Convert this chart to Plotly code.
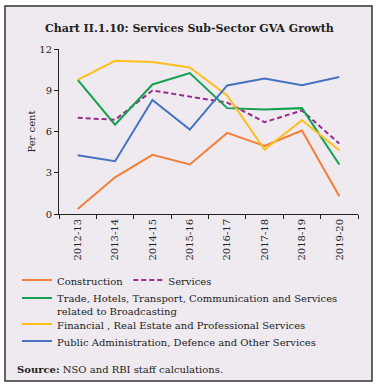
import plotly.graph_objects as go

years = ["2012-13", "2013-14", "2014-15", "2015-16", "2016-17", "2017-18", "2018-19", "2019-20"]
construction = [0.36, 2.67, 4.3, 3.6, 5.9, 4.95, 6.07, 1.3]
services = [7.0, 6.85, 8.98, 8.55, 8.1, 6.68, 7.53, 5.12]
trade = [9.76, 6.5, 9.42, 10.25, 7.7, 7.6, 7.7, 3.6]
financial = [9.76, 11.14, 11.05, 10.66, 8.62, 4.68, 6.82, 4.64]
public_admin = [4.27, 3.84, 8.3, 6.14, 9.35, 9.86, 9.37, 9.96]

FONT = "DejaVu Serif"
W, H = 378, 387
L, R, T, B = 59, 20, 49, 173
pw, ph = W - L - R, H - T - B

def px(x):
    return (x - L) / pw

def py(y):
    return (H - B - y) / ph

fig = go.Figure()
series = [
    ("Construction", construction, "#F37E3A", "solid", "legend"),
    ("Services", services, "#9C2A8C", "5px,3px", "legend"),
    ("Trade, Hotels, Transport, Communication and Services<br>related to Broadcasting", trade, "#13A04F", "solid", "legend2"),
    ("Financial , Real Estate and Professional Services", financial, "#FDBF1A", "solid", "legend3"),
    ("Public Administration, Defence and Other Services", public_admin, "#4673C0", "solid", "legend4"),
]
for name, vals, col, dash, lg in series:
    fig.add_trace(go.Scatter(x=years, y=vals, name=name, mode="lines", legend=lg,
                             line=dict(color=col, width=2, dash=dash)))

legfont = dict(family=FONT, size=10, color="#222")

def leg(top, orient="v"):
    return dict(orientation=orient, x=px(17), y=py(top), xanchor="left", yanchor="top",
                font=legfont, bgcolor="rgba(0,0,0,0)", itemwidth=30, valign="top")

fig.update_layout(
    width=W, height=H,
    margin=dict(l=L, r=R, t=T, b=B, autoexpand=False),
    paper_bgcolor="white",
    plot_bgcolor="rgba(0,0,0,0)",
    font=dict(family=FONT, size=10, color="#222"),
    showlegend=True,
    legend=leg(267, "h"),
    legend2=leg(285),
    legend3=leg(311),
    legend4=leg(328),
    xaxis=dict(type="category", range=[-0.5, 7.5], tickangle=-90, showline=True, linecolor="#222", linewidth=1,
               ticks="outside", ticklen=4, tickcolor="#222", tickson="boundaries",
               showgrid=False, zeroline=False, tickfont=dict(family=FONT, size=10)),
    yaxis=dict(range=[0, 12], dtick=3, showline=True, linecolor="#222", linewidth=1,
               ticks="outside", ticklen=4, tickcolor="#222", showgrid=False, zeroline=False,
               title=dict(text="Per cent", font=dict(family=FONT, size=10), standoff=1),
               tickfont=dict(family=FONT, size=10)),
    shapes=[dict(type="rect", xref="paper", yref="paper", layer="below",
                 x0=px(5), x1=px(372), y0=py(381), y1=py(6),
                 fillcolor="#EEEAF0", line=dict(color="#333", width=1.5))],
    annotations=[
        dict(text="<b>Chart II.1.10: Services Sub-Sector GVA Growth</b>", xref="paper", yref="paper",
             x=px(189), y=py(28), xanchor="center", yanchor="middle", showarrow=False,
             font=dict(family=FONT, size=11, color="#222")),
        dict(text="<b>Source:</b> NSO and RBI staff calculations.", xref="paper", yref="paper",
             x=px(15), y=py(369), xanchor="left", yanchor="middle", showarrow=False,
             font=dict(family=FONT, size=10, color="#222")),
    ],
)
fig.write_html("out.html", config={"displayModeBar": False},
               post_script="document.body.style.margin='0';document.body.style.overflow='hidden';")
